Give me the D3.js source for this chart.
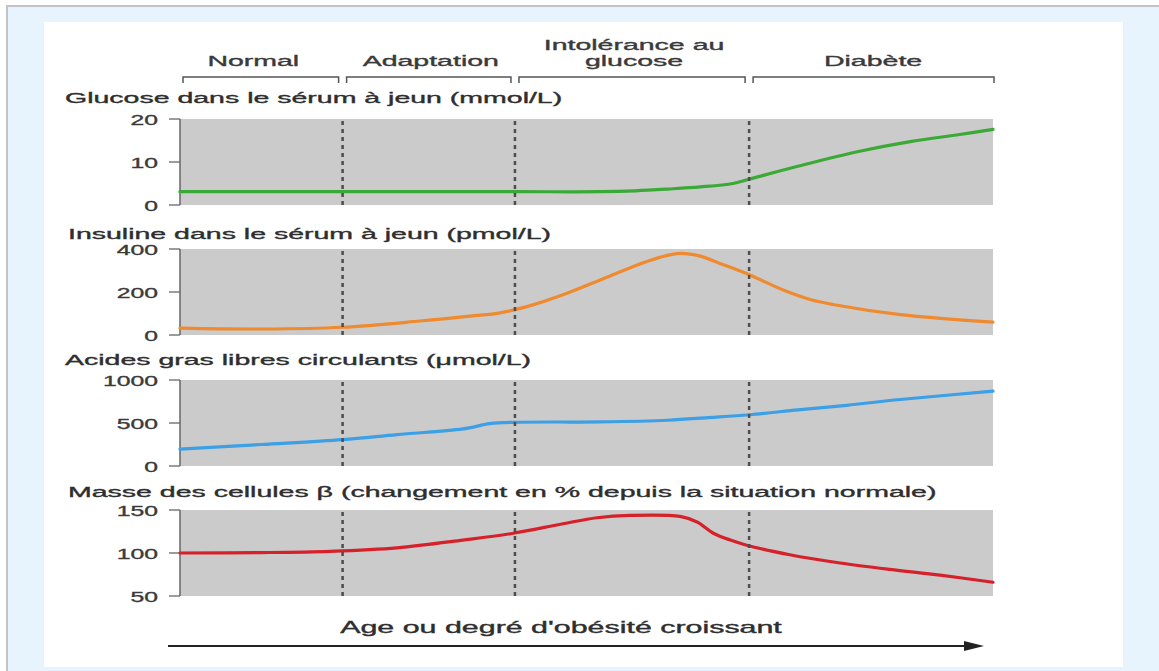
<!DOCTYPE html>
<html lang="fr">
<head>
<meta charset="utf-8">
<title>Évolution vers le diabète de type 2</title>
<script src="https://cdn.jsdelivr.net/npm/d3@7"></script>
<style>
  html, body { margin: 0; padding: 0; background: #fff; }
  svg { display: block; }
  text { font-family: "Liberation Sans", Arial, Helvetica, sans-serif; fill: #2e2e2e; stroke: #2e2e2e; stroke-width: 0.35px; }
</style>
</head>
<body>
<svg id="chart" width="1159" height="671"></svg>
<script>
// ---- Data -------------------------------------------------------------
// Progression axis runs 0 → 100; stage boundaries on that axis
const stageBounds = [0, 20, 41.2, 70, 100];
const stageNames = [["Normal"], ["Adaptation"], ["Intolérance au", "glucose"], ["Diabète"]];

const panelTitles = [
  "Glucose dans le sérum à jeun (mmol/L)",
  "Insuline dans le sérum à jeun (pmol/L)",
  "Acides gras libres circulants (μmol/L)",
  "Masse des cellules β (changement en % depuis la situation normale)"
];

// [progression, value]
const glucose = [[0,3.1],[20,3.1],[41.2,3.1],[51.7,3.1],[56,3.3],[60,3.7],[64,4.2],[68,5.0],[70,6.0],[76,9.0],[83.6,12.5],[90,14.8],[95.9,16.4],[100,17.6]];
const insulin = [[0,32],[10,28],[20,36],[29.5,65],[35.7,88],[39.4,103],[43.4,140],[47.6,194],[51.7,256],[55.7,318],[59,361],[61.5,380],[64,367],[66.4,333],[70.1,279],[74.2,209],[77.5,165],[80.3,142],[88.6,95],[100,60]];
const fattyAcids = [[0,196],[10,250],[20,306],[26.7,365],[34.8,431],[38.1,492],[41,508],[51.7,513],[60,532],[65,563],[70,596],[76,652],[82,706],[88.6,773],[100,870]];
const betaMass = [[0,100],[10,100.5],[18.5,102],[26.7,106],[34.8,115],[41,123],[47.1,134],[51.3,141],[55.4,143.7],[61.5,142.5],[63.6,136],[65.6,123],[67.7,115],[69.7,109],[75,98],[81.2,88.4],[87.3,80.9],[93.5,74.2],[100,66]];

const glucoseTicks = [0, 10, 20];
const insulinTicks = [0, 200, 400];
const fattyAcidTicks = [0, 500, 1000];
const betaTicks = [50, 100, 150];

const glucoseDomain = [0, 20];
const insulinDomain = [0, 400];
const fattyAcidDomain = [0, 1000];
const betaDomain = [50, 150];

const bottomLabel = "Age ou degré d'obésité croissant";

// ---- Layout -----------------------------------------------------------
const SX = 1.9;        // horizontal stretch of the lettering
const SX_TICK = 1.65;
const plotLeft = 180, plotRight = 993, panelH = 86;

const panels = [
  { title: panelTitles[0], data: glucose,    domain: glucoseDomain,    ticks: glucoseTicks,    color: "#3aa935", top: 119, titleY: 103, titleX: 65 },
  { title: panelTitles[1], data: insulin,    domain: insulinDomain,    ticks: insulinTicks,    color: "#ef8a2e", top: 249, titleY: 239, titleX: 68 },
  { title: panelTitles[2], data: fattyAcids, domain: fattyAcidDomain,  ticks: fattyAcidTicks,  color: "#3ba0e6", top: 380, titleY: 365, titleX: 65 },
  { title: panelTitles[3], data: betaMass,   domain: betaDomain,       ticks: betaTicks,       color: "#d6202a", top: 510, titleY: 497, titleX: 68 }
];

const svg = d3.select("#chart");
const x = d3.scaleLinear().domain([0, 100]).range([plotLeft, plotRight]);

// ---- Page frame -------------------------------------------------------
svg.append("rect").attr("x", 0).attr("y", 0).attr("width", 1159).attr("height", 671).attr("fill", "#fff");
svg.append("rect").attr("x", 7).attr("y", 6).attr("width", 1170).attr("height", 680)
  .attr("fill", "#e8f4fd").attr("stroke", "#c3c3c3").attr("stroke-width", 2);
svg.append("rect").attr("x", 44).attr("y", 22).attr("width", 1079).attr("height", 645).attr("fill", "#fff");

function stretchedText(g, str, tx, ty, size, anchor, sx) {
  return g.append("text")
    .attr("transform", `translate(${tx},${ty}) scale(${sx},1)`)
    .attr("text-anchor", anchor)
    .attr("font-size", size)
    .text(str);
}

// ---- Stage header with brackets --------------------------------------
const header = svg.append("g");
stageNames.forEach((lines, i) => {
  const x0 = x(stageBounds[i]) + (i === 0 ? 3 : 4);
  const x1 = x(stageBounds[i + 1]) - (i === stageNames.length - 1 ? -1 : 4);
  const cx = (x(stageBounds[i]) + x(stageBounds[i + 1])) / 2 + (i === 0 ? -8 : 2);
  header.append("path")
    .attr("d", `M${x0},83 V77 H${x1} V83`)
    .attr("fill", "none").attr("stroke", "#555").attr("stroke-width", 1.5);
  lines.forEach((ln, j) => {
    const y = 66 - (lines.length - 1 - j) * 16;
    stretchedText(header, ln, cx, y, 15, "middle", SX).style("fill", "#3a3a3a").style("stroke", "#3a3a3a");
  });
});

// ---- Panels -----------------------------------------------------------
panels.forEach(p => {
  const g = svg.append("g");
  const y = d3.scaleLinear().domain(p.domain).range([p.top + panelH, p.top]);

  g.append("rect")
    .attr("x", plotLeft).attr("y", p.top)
    .attr("width", plotRight - plotLeft).attr("height", panelH)
    .attr("fill", "#cbcbcb");

  // axis line + ticks
  g.append("line")
    .attr("x1", plotLeft).attr("x2", plotLeft)
    .attr("y1", p.top).attr("y2", p.top + panelH)
    .attr("stroke", "#666").attr("stroke-width", 1.5);
  p.ticks.forEach(t => {
    g.append("line")
      .attr("x1", plotLeft - 11).attr("x2", plotLeft)
      .attr("y1", y(t)).attr("y2", y(t))
      .attr("stroke", "#666").attr("stroke-width", 1.3);
    stretchedText(g, d3.format("d")(t), 158, y(t) + 5.5, 15, "end", SX_TICK).style("fill", "#3a3a3a").style("stroke", "#3a3a3a");
  });

  stretchedText(g, p.title, p.titleX, p.titleY, 15, "start", SX);

  const line = d3.line()
    .x(d => x(d[0]))
    .y(d => y(d[1]))
    .curve(d3.curveCatmullRom.alpha(0.5));
  g.append("path")
    .datum(p.data)
    .attr("d", line)
    .attr("fill", "none")
    .attr("stroke", p.color)
    .attr("stroke-width", 3.2)
    .attr("stroke-linecap", "round");

  // stage separators
  stageBounds.slice(1, -1).forEach(b => {
    g.append("line")
      .attr("x1", x(b)).attr("x2", x(b))
      .attr("y1", p.top + 2).attr("y2", p.top + panelH)
      .attr("stroke", "#4d4d4d").attr("stroke-width", 2.5)
      .attr("stroke-dasharray", "4,4");
  });
});

// ---- Bottom arrow -----------------------------------------------------
stretchedText(svg, bottomLabel, 561, 633, 16, "middle", SX);
svg.append("line")
  .attr("x1", 168).attr("x2", 970).attr("y1", 646).attr("y2", 646)
  .attr("stroke", "#222").attr("stroke-width", 2);
svg.append("path")
  .attr("d", "M964,641 L984,646 L964,651 Z")
  .attr("fill", "#222");
</script>
</body>
</html>
